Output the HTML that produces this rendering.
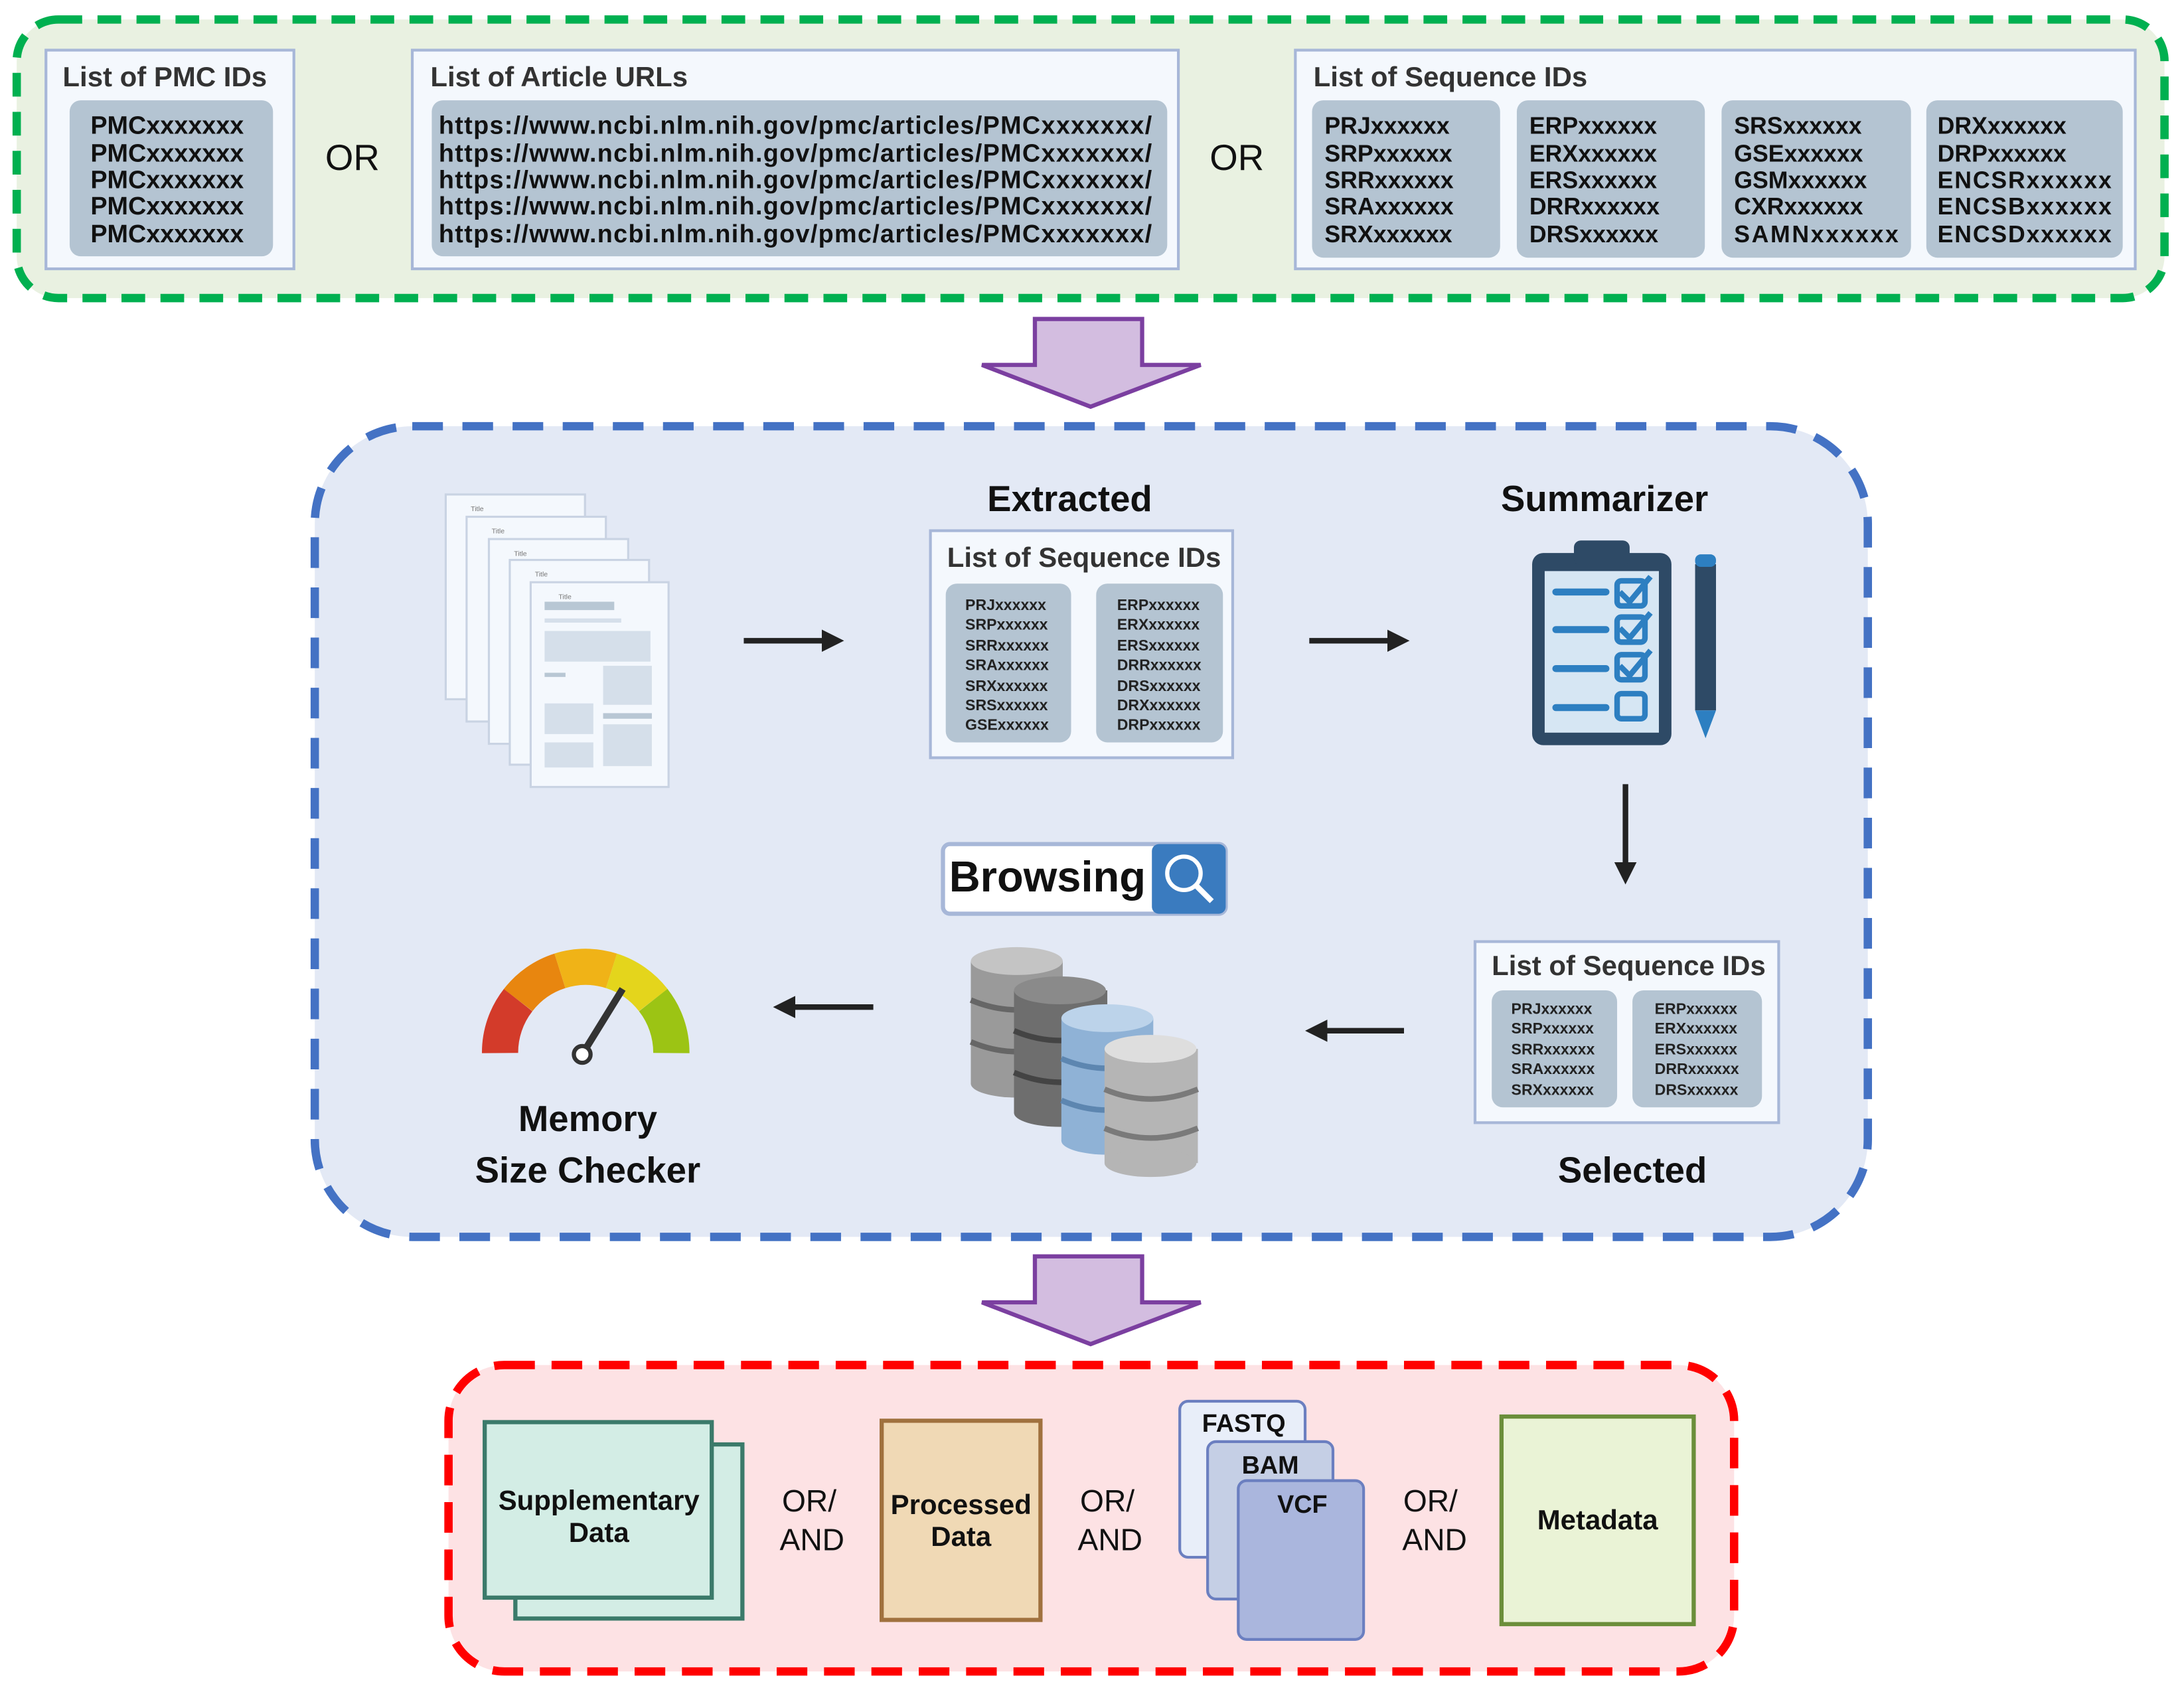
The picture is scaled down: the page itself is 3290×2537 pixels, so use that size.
<!DOCTYPE html>
<html><head><meta charset="utf-8"><style>html,body{margin:0;padding:0;background:#fff}svg{display:block}</style></head>
<body>
<svg width="3290" height="2537" viewBox="0 0 1568 1209" preserveAspectRatio="none" xmlns="http://www.w3.org/2000/svg" font-family="Liberation Sans, sans-serif">
<defs>
<marker id="ah" markerWidth="4" markerHeight="4" refX="2" refY="2" orient="auto"><path d="M0,0 L4,2 L0,4z" fill="#222"/></marker>
</defs>
<!-- green box -->
<rect x="12" y="14" width="1542" height="200" rx="30" fill="#e9f1e1" stroke="#00b050" stroke-width="6" stroke-dasharray="17,11"/>
<g font-weight="bold" fill="#222">
<rect x="33" y="36" width="178" height="157" fill="#f4f8fd" stroke="#a7b7d8" stroke-width="2"/>
<text x="45" y="62" font-size="20" fill="#333">List of PMC IDs</text>
<rect x="50" y="72" width="146" height="112" rx="8" fill="#b4c4d2"/>
<g font-size="18" fill="#111"><text x="65" y="96">PMCxxxxxxx</text><text x="65" y="116">PMCxxxxxxx</text><text x="65" y="135">PMCxxxxxxx</text><text x="65" y="154">PMCxxxxxxx</text><text x="65" y="174">PMCxxxxxxx</text></g>
<text x="253" y="122" font-size="26" text-anchor="middle" fill="#111" font-weight="normal">OR</text>
<rect x="296" y="36" width="550" height="157" fill="#f4f8fd" stroke="#a7b7d8" stroke-width="2"/>
<text x="309" y="62" font-size="20" fill="#333">List of Article URLs</text>
<rect x="310" y="72" width="528" height="112" rx="8" fill="#b4c4d2"/>
<g font-size="18" fill="#111" textLength="512"><text x="315" y="96" textLength="512">https://www.ncbi.nlm.nih.gov/pmc/articles/PMCxxxxxxx/</text><text x="315" y="116" textLength="512">https://www.ncbi.nlm.nih.gov/pmc/articles/PMCxxxxxxx/</text><text x="315" y="135" textLength="512">https://www.ncbi.nlm.nih.gov/pmc/articles/PMCxxxxxxx/</text><text x="315" y="154" textLength="512">https://www.ncbi.nlm.nih.gov/pmc/articles/PMCxxxxxxx/</text><text x="315" y="174" textLength="512">https://www.ncbi.nlm.nih.gov/pmc/articles/PMCxxxxxxx/</text></g>
<text x="888" y="122" font-size="26" text-anchor="middle" fill="#111" font-weight="normal">OR</text>
<rect x="930" y="36" width="603" height="157" fill="#f4f8fd" stroke="#a7b7d8" stroke-width="2"/>
<text x="943" y="62" font-size="20" fill="#333">List of Sequence IDs</text>
<rect x="942" y="72" width="135" height="113" rx="8" fill="#b4c4d2"/>
<rect x="1089" y="72" width="135" height="113" rx="8" fill="#b4c4d2"/>
<rect x="1236" y="72" width="136" height="113" rx="8" fill="#b4c4d2"/>
<rect x="1383" y="72" width="141" height="113" rx="8" fill="#b4c4d2"/>
<g font-size="17" fill="#111">
<text x="951" y="96">PRJxxxxxx</text><text x="951" y="116">SRPxxxxxx</text><text x="951" y="135">SRRxxxxxx</text><text x="951" y="154">SRAxxxxxx</text><text x="951" y="174">SRXxxxxxx</text>
<text x="1098" y="96">ERPxxxxxx</text><text x="1098" y="116">ERXxxxxxx</text><text x="1098" y="135">ERSxxxxxx</text><text x="1098" y="154">DRRxxxxxx</text><text x="1098" y="174">DRSxxxxxx</text>
<text x="1245" y="96">SRSxxxxxx</text><text x="1245" y="116">GSExxxxxx</text><text x="1245" y="135">GSMxxxxxx</text><text x="1245" y="154">CXRxxxxxx</text><text x="1245" y="174" textLength="118">SAMNxxxxxx</text>
<text x="1391" y="96">DRXxxxxxx</text><text x="1391" y="116">DRPxxxxxx</text><text x="1391" y="135" textLength="125">ENCSRxxxxxx</text><text x="1391" y="154" textLength="125">ENCSBxxxxxx</text><text x="1391" y="174" textLength="125">ENCSDxxxxxx</text>
</g>
</g>
<!-- purple arrow 1 -->
<path d="M743,229 H820 V262 H862 L783,292 L705,262 H743 Z" fill="#d3bde0" stroke="#7b3fa0" stroke-width="3"/>
<!-- blue box -->
<rect x="226" y="306" width="1115" height="582" rx="70" fill="#e3e9f5" stroke="#4472c4" stroke-width="6" stroke-dasharray="22,14"/>
<!-- documents -->
<g stroke="#c9d3e3" stroke-width="1.5">
<g><rect x="320" y="355" width="100" height="147" fill="#f4f8fd"/></g>
<g><rect x="335" y="371" width="100" height="147" fill="#f4f8fd"/></g>
<g><rect x="351" y="387" width="100" height="147" fill="#f4f8fd"/></g>
<g><rect x="366" y="402" width="100" height="147" fill="#f4f8fd"/></g>
<g><rect x="381" y="418" width="99" height="147" fill="#f4f8fd"/></g>
</g>
<g fill="#d5dfea">
<rect x="391" y="432" width="50" height="6" fill="#b8c7d4"/><rect x="391" y="444" width="55" height="3"/>
<rect x="391" y="453" width="76" height="22"/><rect x="391" y="483" width="15" height="3" fill="#b8c7d4"/>
<rect x="391" y="505" width="35" height="22"/><rect x="391" y="533" width="35" height="18"/>
<rect x="433" y="478" width="35" height="28"/><rect x="433" y="512" width="35" height="4" fill="#b8c7d4"/><rect x="433" y="520" width="35" height="30"/>
</g>
<g font-size="5" fill="#777"><text x="338" y="367">Title</text><text x="353" y="383">Title</text><text x="369" y="399">Title</text><text x="384" y="414">Title</text><text x="401" y="430">Title</text></g>
<!-- arrows -->
<g stroke="#222" stroke-width="4" marker-end="url(#ah)">
<line x1="534" y1="460" x2="598" y2="460"/>
<line x1="940" y1="460" x2="1004" y2="460"/>
<line x1="1167" y1="563" x2="1167" y2="627"/>
<line x1="1008" y1="740" x2="945" y2="740"/>
<line x1="627" y1="723" x2="563" y2="723"/>
</g>
<!-- extracted -->
<g font-weight="bold">
<text x="768" y="367" font-size="26" text-anchor="middle" fill="#111">Extracted</text>
<rect x="668" y="381" width="217" height="163" fill="#f4f8fd" stroke="#a7b7d8" stroke-width="2"/>
<text x="680" y="407" font-size="20" fill="#333">List of Sequence IDs</text>
<rect x="679" y="419" width="90" height="114" rx="8" fill="#b4c4d2"/>
<rect x="787" y="419" width="91" height="114" rx="8" fill="#b4c4d2"/>
<g font-size="11" fill="#222">
<text x="693" y="438">PRJxxxxxx</text><text x="693" y="452">SRPxxxxxx</text><text x="693" y="467">SRRxxxxxx</text><text x="693" y="481">SRAxxxxxx</text><text x="693" y="496">SRXxxxxxx</text><text x="693" y="510">SRSxxxxxx</text><text x="693" y="524">GSExxxxxx</text>
<text x="802" y="438">ERPxxxxxx</text><text x="802" y="452">ERXxxxxxx</text><text x="802" y="467">ERSxxxxxx</text><text x="802" y="481">DRRxxxxxx</text><text x="802" y="496">DRSxxxxxx</text><text x="802" y="510">DRXxxxxxx</text><text x="802" y="524">DRPxxxxxx</text>
</g>
<text x="1152" y="367" font-size="26" text-anchor="middle" fill="#111">Summarizer</text>
</g>
<!-- clipboard -->
<rect x="1100" y="397" width="100" height="138" rx="8" fill="#2e4a66"/>
<rect x="1109" y="410" width="82" height="116" fill="#d6e6f3"/>
<rect x="1130" y="388" width="40" height="18" rx="5" fill="#2e4a66"/>
<g stroke="#2d7fc1" stroke-width="5" stroke-linecap="round">
<line x1="1117" y1="425" x2="1153" y2="425"/><line x1="1117" y1="452" x2="1153" y2="452"/><line x1="1117" y1="480" x2="1153" y2="480"/><line x1="1117" y1="508" x2="1153" y2="508"/>
</g>
<g fill="none" stroke="#2d7fc1" stroke-width="4">
<rect x="1161" y="417" width="20" height="18" rx="3"/><rect x="1161" y="443" width="20" height="18" rx="3"/><rect x="1161" y="470" width="20" height="18" rx="3"/><rect x="1161" y="498" width="20" height="18" rx="3"/>
<path d="M1163,425 l7,7 l15,-18 M1163,451 l7,7 l15,-18 M1163,478 l7,7 l15,-18"/>
</g>
<rect x="1217" y="405" width="15" height="105" fill="#2e4a66"/><rect x="1217" y="398" width="15" height="9" rx="4" fill="#2d7fc1"/>
<path d="M1217,510 H1232 L1224.5,530 Z" fill="#2d7fc1"/>
<!-- selected -->
<g font-weight="bold">
<rect x="1059" y="676" width="218" height="130" fill="#f4f8fd" stroke="#a7b7d8" stroke-width="2"/>
<text x="1071" y="700" font-size="20" fill="#333">List of Sequence IDs</text>
<rect x="1071" y="711" width="90" height="84" rx="8" fill="#b4c4d2"/>
<rect x="1172" y="711" width="93" height="84" rx="8" fill="#b4c4d2"/>
<g font-size="11" fill="#222">
<text x="1085" y="728">PRJxxxxxx</text><text x="1085" y="742">SRPxxxxxx</text><text x="1085" y="757">SRRxxxxxx</text><text x="1085" y="771">SRAxxxxxx</text><text x="1085" y="786">SRXxxxxxx</text>
<text x="1188" y="728">ERPxxxxxx</text><text x="1188" y="742">ERXxxxxxx</text><text x="1188" y="757">ERSxxxxxx</text><text x="1188" y="771">DRRxxxxxx</text><text x="1188" y="786">DRSxxxxxx</text>
</g>
<text x="1172" y="849" font-size="26" text-anchor="middle" fill="#111">Selected</text>
</g>
<!-- browsing -->
<rect x="677" y="606" width="203" height="50" rx="5" fill="#fff" stroke="#a7b7d8" stroke-width="3"/>
<rect x="827" y="606" width="53" height="50" rx="5" fill="#3a7bbf"/>
<circle cx="850" cy="627" r="12" fill="none" stroke="#fff" stroke-width="3"/><line x1="859" y1="636" x2="870" y2="647" stroke="#fff" stroke-width="4"/>
<text x="752" y="640" font-size="31" font-weight="bold" text-anchor="middle" fill="#111">Browsing</text>
<!-- databases -->
<g stroke-width="0">
<g><rect x="697" y="690" width="66" height="88" fill="#9a9a9a"/><ellipse cx="730" cy="778" rx="33" ry="10" fill="#9a9a9a"/><ellipse cx="730" cy="690" rx="33" ry="10" fill="#c4c4c4"/><path d="M697,718 q33,14 66,0 M697,748 q33,14 66,0" stroke="#666" stroke-width="4" fill="none"/></g>
<g><rect x="728" y="711" width="67" height="88" fill="#6e6e6e"/><ellipse cx="761" cy="799" rx="33" ry="10" fill="#6e6e6e"/><ellipse cx="761" cy="711" rx="33" ry="10" fill="#8a8a8a"/><path d="M728,740 q33,14 67,0 M728,770 q33,14 67,0" stroke="#444" stroke-width="4" fill="none"/></g>
<g><rect x="762" y="731" width="66" height="88" fill="#8fb2d6"/><ellipse cx="795" cy="819" rx="33" ry="10" fill="#8fb2d6"/><ellipse cx="795" cy="731" rx="33" ry="10" fill="#bcd3ea"/><path d="M762,760 q33,14 66,0 M762,790 q33,14 66,0" stroke="#5d86b0" stroke-width="4" fill="none"/></g>
<g><rect x="793" y="753" width="67" height="82" fill="#b5b5b5"/><ellipse cx="826" cy="835" rx="33" ry="10" fill="#b5b5b5"/><ellipse cx="826" cy="753" rx="33" ry="10" fill="#dedede"/><path d="M793,782 q33,14 67,0 M793,810 q33,14 67,0" stroke="#7a7a7a" stroke-width="4" fill="none"/></g>
</g>
<!-- gauge -->
<g fill="none" stroke-width="26">
<path d="M359,756 A61,61 0 0 1 372,718" stroke="#d33b2a"/>
<path d="M372,718 A61,61 0 0 1 402,697" stroke="#e8860f"/>
<path d="M402,697 A61,61 0 0 1 439,697" stroke="#f0b317"/>
<path d="M439,697 A61,61 0 0 1 469,718" stroke="#e4d51c"/>
<path d="M469,718 A61,61 0 0 1 482,756" stroke="#9cc414"/>
</g>
<line x1="418" y1="757" x2="447" y2="710" stroke="#333" stroke-width="5"/>
<circle cx="418" cy="757" r="6" fill="#fff" stroke="#333" stroke-width="3"/>
<g font-weight="bold" font-size="26" text-anchor="middle" fill="#111"><text x="422" y="812">Memory</text><text x="422" y="849">Size Checker</text></g>
<!-- purple arrow 2 -->
<path d="M743,902 H820 V935 H862 L783,965 L705,935 H743 Z" fill="#d3bde0" stroke="#7b3fa0" stroke-width="3"/>
<!-- red box -->
<rect x="322" y="980" width="923" height="220" rx="40" fill="#fde2e4" stroke="#ff0000" stroke-width="6" stroke-dasharray="22,12"/>
<rect x="370" y="1037" width="163" height="125" fill="#d3ede5" stroke="#3b7a6a" stroke-width="3"/>
<rect x="348" y="1021" width="163" height="126" fill="#d3ede5" stroke="#3b7a6a" stroke-width="3"/>
<rect x="633" y="1020" width="114" height="143" fill="#f0d9b5" stroke="#a0713e" stroke-width="3"/>
<rect x="847" y="1006" width="90" height="112" rx="6" fill="#e8eef9" stroke="#6b7fc0" stroke-width="2"/>
<rect x="867" y="1035" width="90" height="113" rx="6" fill="#c5cfe5" stroke="#6b7fc0" stroke-width="2"/>
<rect x="889" y="1063" width="90" height="114" rx="6" fill="#aab6dd" stroke="#6b7fc0" stroke-width="2"/>
<rect x="1078" y="1017" width="138" height="149" fill="#eaf3d6" stroke="#6b8e3a" stroke-width="3"/>
<g font-weight="bold" font-size="20" text-anchor="middle" fill="#111">
<text x="430" y="1084">Supplementary</text><text x="430" y="1107">Data</text>
<text x="690" y="1087">Processed</text><text x="690" y="1110">Data</text>
<text x="893" y="1028" font-size="18">FASTQ</text><text x="912" y="1058" font-size="18">BAM</text><text x="935" y="1086" font-size="18">VCF</text>
<text x="1147" y="1098">Metadata</text>
</g>
<g font-size="22" text-anchor="middle" fill="#111">
<text x="581" y="1085">OR/</text><text x="583" y="1113">AND</text>
<text x="795" y="1085">OR/</text><text x="797" y="1113">AND</text>
<text x="1027" y="1085">OR/</text><text x="1030" y="1113">AND</text>
</g>
</svg>
</body></html>
